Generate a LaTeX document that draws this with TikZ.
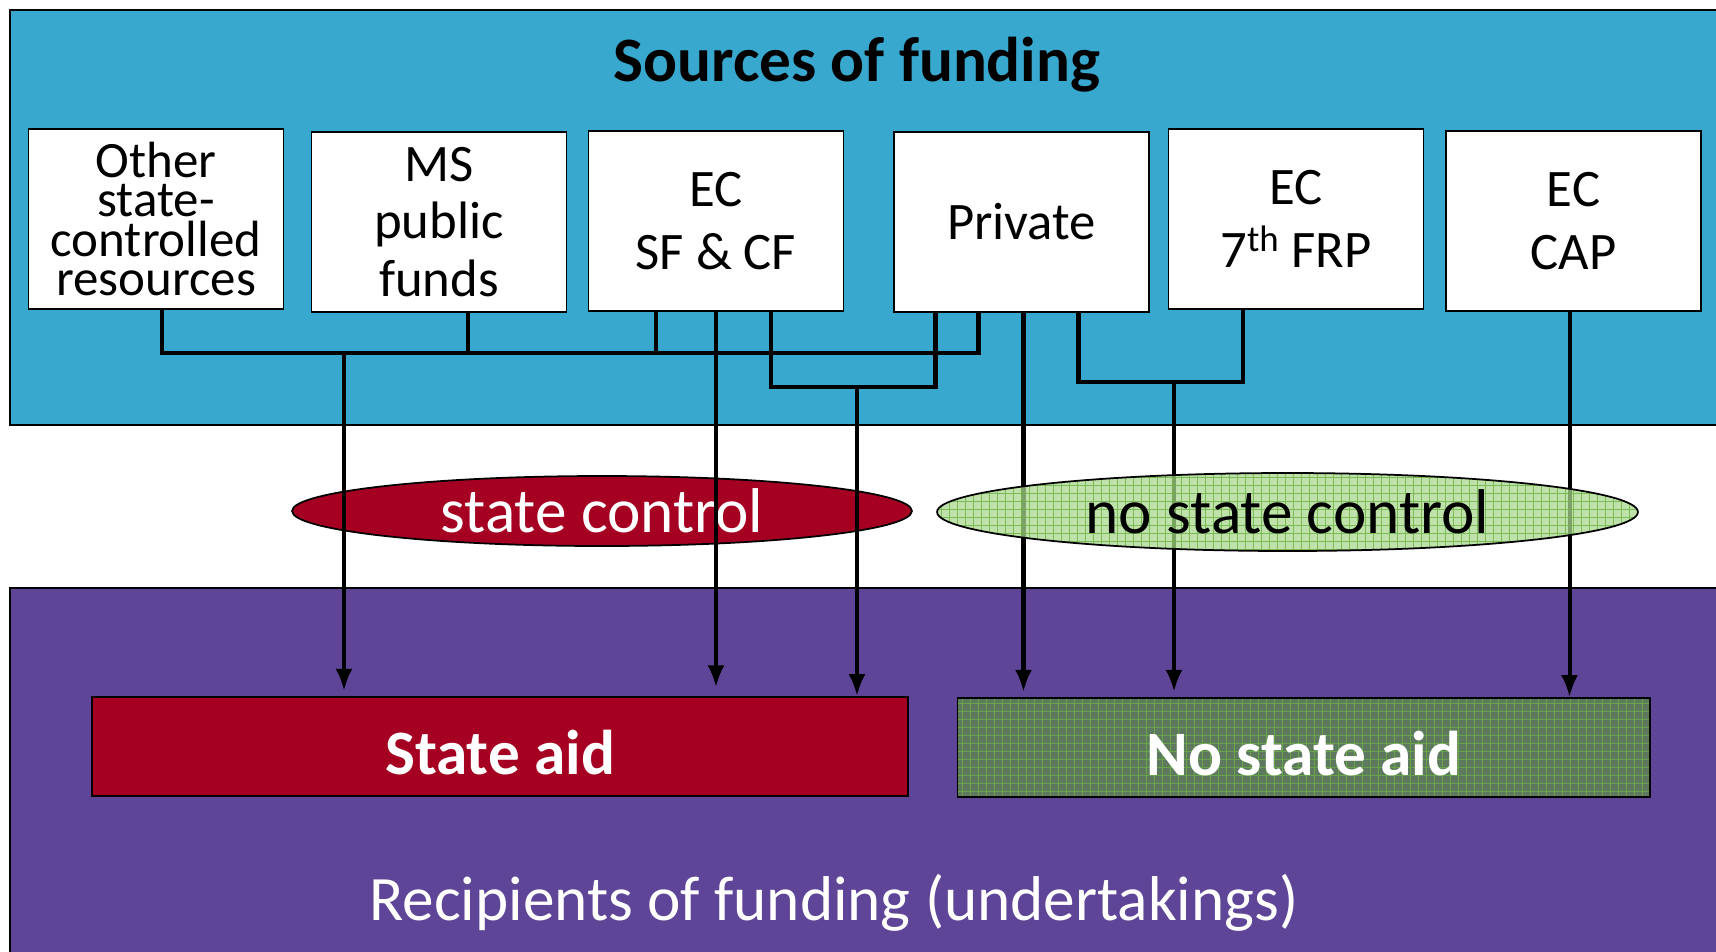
\documentclass[tikz,border=0pt]{standalone}
\usepackage{fontspec}
\setmainfont{Carlito}
\usepackage{tikz}
\usetikzlibrary{arrows.meta,calc,shapes.geometric}

\definecolor{srcblue}{HTML}{38A8CF}
\definecolor{rcppurple}{HTML}{5F4597}
\definecolor{aidred}{HTML}{A50021}
\definecolor{ctlgreen}{HTML}{A8D88C}
\definecolor{gridgreen}{HTML}{6CB043}
\definecolor{noaidgreen}{HTML}{5E7A5E}

\begin{document}
\begin{tikzpicture}[x=0.02cm,y=-0.02cm,
  src/.style={draw=black,line width=0.8pt,fill=white,minimum width=5.1cm,
    minimum height=3.6cm,inner sep=0pt,align=center,font=\fontsize{30}{36}\selectfont},
  bus/.style={line width=2.8pt},
  flow/.style={line width=2.3pt,-{Latex[length=0.44cm,width=0.34cm]}},
  checks/.style={path picture={\draw[gridgreen,line width=0.4pt,draw opacity=0.8]
    (path picture bounding box.south west) grid[step=0.16cm] (path picture bounding box.north east);}},
  big/.style={font=\fontsize{36}{43}\selectfont},
  bigbold/.style={font=\bfseries\fontsize{36}{43}\selectfont}]
  \clip (0,0) rectangle (1716,951);
  % the two areas
  \draw[fill=srcblue,line width=1pt] (10,10) rectangle (1730,425);
  \draw[fill=rcppurple,line width=1pt] (10,588) rectangle (1730,960);
  \node[bigbold] (title) at (857,65) {Sources of funding};
  % sources
  \node[src,font=\fontsize{29}{22.5}\selectfont] (other) at (156,219) {Other\\state-\\controlled\\resources};
  \node[src,font=\fontsize{30}{32.7}\selectfont] (ms) at (439,222) {MS\\public\\funds};
  \node[src] (ecsf) at (716,221) {EC\\SF \& CF};
  \node[src] (private) at (1021.5,222) {Private};
  \node[src] (frp) at (1296,219) {EC\\7\textsuperscript{th} FRP};
  \node[src] (cap) at (1573.5,221) {EC\\CAP};
  \node[ellipse,draw=black,line width=1pt,fill=aidred,text=white,big,minimum width=12.4cm,
    minimum height=1.4cm,inner sep=0pt] (ctl) at (602,511) {state control};
  % taps and junctions
  \coordinate (upbus) at (0,353);
  \coordinate (lowbus) at (0,387);
  \coordinate (frpbus) at (0,382);
  \coordinate (o1) at ($(other.south)+(6,0)$);
  \coordinate (m1) at ($(ms.south)+(29,0)$);
  \coordinate (e1) at ($(ecsf.south)+(-60,0)$);
  \coordinate (e2) at (ecsf.south);
  \coordinate (e3) at ($(ecsf.south)+(55,0)$);
  \coordinate (p1) at ($(private.south)+(-86,0)$);
  \coordinate (p2) at ($(private.south)+(-43,0)$);
  \coordinate (p3) at ($(private.south)+(2,0)$);
  \coordinate (p4) at ($(private.south)+(57,0)$);
  \coordinate (f1) at ($(frp.south)+(-53,0)$);
  \coordinate (c1) at ($(cap.south)+(-4,0)$);
  \coordinate (j1) at (344,353);
  \coordinate (j2) at (857,387);
  \coordinate (j3) at (1174,382);
  \draw[bus] (o1) |- (p2 |- upbus) -- (p2);
  \draw[bus] (m1) -- (m1 |- upbus);
  \draw[bus] (e1) -- (e1 |- upbus);
  \draw[bus] (e3) |- (p1 |- lowbus) -- (p1);
  \draw[bus] (p4) |- (f1 |- frpbus) -- (f1);
  % results
  \node[draw=black,line width=1pt,fill=aidred,text=white,bigbold,text height=32pt,text depth=0pt,
    minimum width=16.32cm,minimum height=1.98cm] (aid) at (500,746.5) {State aid};
  \node[draw=black,line width=1pt,fill=noaidgreen,text=white,bigbold,checks,text height=32pt,text depth=0pt,
    minimum width=13.85cm,minimum height=1.98cm] (noaid) at (1303.75,747.5) {No state aid};
  \draw[flow] (j1) -- ([yshift=3pt]j1 |- aid.north);
  \draw[flow] (e2) -- ([yshift=5pt]e2 |- aid.north);
  \draw[flow] (j2) -- (j2 |- aid.north);
  \draw[flow] (p3) -- ([yshift=3pt]p3 |- noaid.north);
  \draw[flow] (j3) -- ([yshift=3pt]j3 |- noaid.north);
  \draw[flow] (c1) -- (c1 |- noaid.north);
  \node[ellipse,draw=black,line width=1pt,fill=ctlgreen,fill opacity=0.75,text opacity=1,
    checks,big,minimum width=14.02cm,minimum height=1.56cm,inner sep=0pt] (noctl) at (1287.5,512) {no state control};
  \node[big,text=white] (rcp) at (834,903) {Recipients of funding (undertakings)};
\end{tikzpicture}
\end{document}
